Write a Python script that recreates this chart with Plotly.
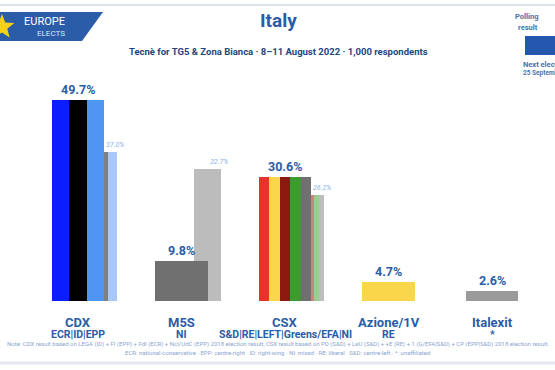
import math
import plotly.graph_objects as go

# ---- data ----
categories = ["CDX", "M5S", "CSX", "Azione/1V", "Italexit"]
groups = ["ECR|ID|EPP", "NI", "S&D|RE|LEFT|Greens/EFA|NI", "RE", "*"]
poll = [49.7, 9.8, 30.6, 4.7, 2.6]
prev_2018 = [37.0, 32.7, 26.2, None, None]
poll_colors = [
    ["#0a1eff", "#000000", "#4f96f2"],
    ["#707070"],
    ["#e8332a", "#f9d64a", "#8b1a10", "#3f9a2f", "#707070"],
    ["#f9d64a"],
    ["#9a9a9a"],
]
prev_colors = [
    ["#8090ff", "#808080", "#a8c9f7"],
    ["#bcbcbc"],
    ["#f39a94", "#fbe69a", "#c98580", "#9ccf8f", "#bdbdbd"],
    [],
    [],
]

title = "Italy"
subtitle = "Tecnè for TG5 & Zona Bianca · 8–11 August 2022 · 1,000 respondents"
note1 = ("Note: CDX result based on LEGA (ID) + FI (EPP) + FdI (ECR) + NcI/UdC (EPP) 2018 election result; "
         "CSX result based on PD (S&D) + LeU (S&D) + +E (RE) + 1 (G/EFA|S&D) + CP (EPP|S&D) 2018 election result.")
note2 = ("ECR: national-conservative · EPP: centre-right · ID: right-wing · NI: mixed · "
         "RE: liberal · S&D: centre-left · *: unaffiliated")

# ---- layout constants ----
W, H = 555, 370
L, R, T, B = 26, 11, 79, 69
PW, PH = W - L - R, H - T - B
BW = 0.505  # poll bar width (category units)
FONT = "Roboto"
BLUE = "#2a5ca8"


def px(x):
    return (x - L) / PW


def py(y):
    return (H - B - y) / PH


fig = go.Figure()

# previous election bars (behind)
for i, val in enumerate(prev_2018):
    if val is None:
        continue
    cols = prev_colors[i]
    n = len(cols)
    start = i + 0.25 * BW
    seg = 0.5 * BW / n
    for j, c in enumerate(cols):
        fig.add_trace(go.Bar(x=[start + (j + 0.5) * seg], y=[val], width=[seg],
                             marker=dict(color=c, line=dict(width=0)),
                             hoverinfo="skip", showlegend=False))

# poll bars
for i, val in enumerate(poll):
    cols = poll_colors[i]
    n = len(cols)
    start = i - BW / 2
    seg = BW / n
    for j, c in enumerate(cols):
        fig.add_trace(go.Bar(x=[start + (j + 0.5) * seg], y=[val], width=[seg],
                             marker=dict(color=c, line=dict(width=0)),
                             hoverinfo="skip", showlegend=False))

ann = []
for i, (cat, grp, val, pv) in enumerate(zip(categories, groups, poll, prev_2018)):
    ann.append(dict(x=i, y=val, xref="x", yref="y", text=f"<b>{val:.1f}%</b>",
                    showarrow=False, yanchor="bottom", yshift=1,
                    font=dict(family=FONT, size=12.5, color=BLUE)))
    if pv is not None:
        ann.append(dict(x=i + BW / 2, y=pv, xref="x", yref="y", text=f"<i>{pv:.1f}%</i>",
                        showarrow=False, xanchor="left", yanchor="bottom", xshift=0, yshift=1,
                        font=dict(family=FONT, size=7, color="#8fb3e8")))
    ann.append(dict(x=i, y=py(322), xref="x", yref="paper", text=f"<b>{cat}</b>",
                    showarrow=False, yanchor="middle",
                    font=dict(family=FONT, size=13, color=BLUE)))
    ann.append(dict(x=i, y=py(334), xref="x", yref="paper", text=f"<b>{grp}</b>",
                    showarrow=False, yanchor="middle",
                    font=dict(family=FONT, size=10.5, color=BLUE)))

# titles
ann.append(dict(x=px(278), y=py(20), xref="paper", yref="paper", text=f"<b>{title}</b>",
                showarrow=False, yanchor="middle",
                font=dict(family=FONT, size=19, color=BLUE)))
ann.append(dict(x=px(278), y=py(52), xref="paper", yref="paper", text=f"<b>{subtitle}</b>",
                showarrow=False, yanchor="middle",
                font=dict(family=FONT, size=9.5, color="#23467f")))
# notes
ann.append(dict(x=px(277.5), y=py(344), xref="paper", yref="paper", text=note1,
                showarrow=False, yanchor="middle",
                font=dict(family=FONT, size=6, color="#8aa6cf")))
ann.append(dict(x=px(277.5), y=py(352.5), xref="paper", yref="paper", text=note2,
                showarrow=False, yanchor="middle",
                font=dict(family=FONT, size=6, color="#8aa6cf")))
# logo text
ann.append(dict(x=px(22), y=py(22), xref="paper", yref="paper", text="EUROPE",
                showarrow=False, xanchor="left", yanchor="middle",
                font=dict(family=FONT, size=11, color="#ffffff")))
ann.append(dict(x=px(35), y=py(33.5), xref="paper", yref="paper", text="ELECTS",
                showarrow=False, xanchor="left", yanchor="middle",
                font=dict(family=FONT, size=8, color="#dce7f7")))
# right legend
for txt, yy in [("Polling", 17), ("result", 27.5)]:
    ann.append(dict(x=px(540), y=py(yy), xref="paper", yref="paper", text=f"<b>{txt}</b>",
                    showarrow=False, yanchor="middle",
                    font=dict(family=FONT, size=7.5, color="#4a72ab")))
for txt, yy, sz in [("Next election", 64, 7.5), ("25 September 2022", 73, 6.5)]:
    ann.append(dict(x=px(521), y=py(yy), xref="paper", yref="paper", text=f"<b>{txt}</b>",
                    showarrow=False, xanchor="left", yanchor="middle",
                    font=dict(family=FONT, size=sz, color="#4a72ab")))

shapes = [
    # top rule
    dict(type="line", xref="paper", yref="paper", x0=px(0), x1=px(W), y0=py(5), y1=py(5),
         line=dict(color="#dde3eb", width=2)),
    # bottom rule
    dict(type="line", xref="paper", yref="paper", x0=px(0), x1=px(W), y0=py(363), y1=py(363),
         line=dict(color="#e3e8ee", width=3)),
    # logo parallelogram
    dict(type="path", xref="paper", yref="paper",
         path=f"M {px(0)},{py(12)} L {px(103)},{py(12)} L {px(82)},{py(41)} L {px(0)},{py(41)} Z",
         fillcolor="#2b5ca8", line=dict(width=0)),
    # legend swatch
    dict(type="rect", xref="paper", yref="paper", x0=px(525), x1=px(560), y0=py(55), y1=py(36),
         fillcolor="#2457ae", line=dict(width=0)),
]
# star
cx, cy, ro, ri = 2, 27, 13, 5.5
pts = []
for k in range(10):
    ang = -math.pi / 2 + k * math.pi / 5
    r = ro if k % 2 == 0 else ri
    pts.append((px(cx + r * math.cos(ang)), py(cy + r * math.sin(ang))))
path = "M " + " L ".join(f"{a},{b}" for a, b in pts) + " Z"
shapes.append(dict(type="path", xref="paper", yref="paper", path=path,
                   fillcolor="#f7d117", line=dict(width=0)))

fig.update_layout(
    width=W, height=H,
    margin=dict(l=L, r=R, t=T, b=B),
    paper_bgcolor="white", plot_bgcolor="white",
    barmode="overlay", bargap=0,
    xaxis=dict(range=[-0.5, 4.5], visible=False, fixedrange=True),
    yaxis=dict(range=[0, 55], visible=False, fixedrange=True),
    annotations=ann, shapes=shapes, showlegend=False,
)
fig.update_traces(cliponaxis=False)
fig.write_html("out.html", config={"displayModeBar": False},
               post_script="document.body.style.margin='0';document.body.style.overflow='hidden';")
